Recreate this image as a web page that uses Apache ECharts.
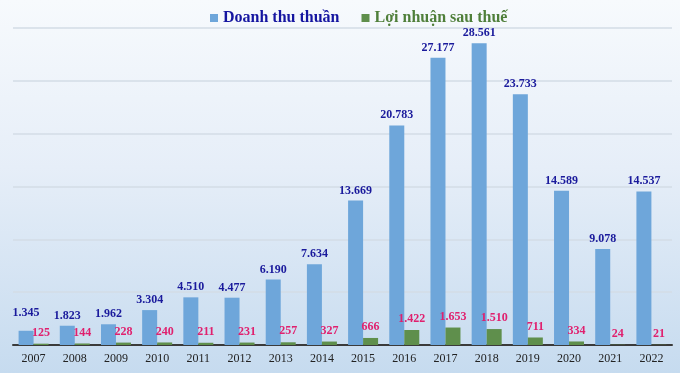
<!DOCTYPE html>
<html>
<head>
<meta charset="utf-8">
<script src="https://cdn.jsdelivr.net/npm/echarts@6/dist/echarts.min.js"></script>
<style>html,body{margin:0;padding:0;}#c{width:680px;height:373px;}</style>
</head>
<body>
<div id="c"></div>
<script>
const years = ['2007','2008','2009','2010','2011','2012','2013','2014','2015','2016','2017','2018','2019','2020','2021','2022'];
const revenue = [1345, 1823, 1962, 3304, 4510, 4477, 6190, 7634, 13669, 20783, 27177, 28561, 23733, 14589, 9078, 14537];
const profit = [125, 144, 228, 240, 211, 231, 257, 327, 666, 1422, 1653, 1510, 711, 334, 24, 21];

function fmt(v) {
  return String(v).replace(/\B(?=(\d{3})+(?!\d))/g, '.');
}
const serif = '"Liberation Serif", "Times New Roman", serif';
const chart = echarts.init(document.getElementById('c'));
chart.setOption({
  animation: false,
  backgroundColor: new echarts.graphic.LinearGradient(0, 0, 0, 1, [
    {offset: 0, color: '#f7fafd'},
    {offset: 0.45, color: '#e6eef8'},
    {offset: 1, color: '#c6dbef'}
  ]),
  legend: {
    top: 5,
    left: 205,
    icon: 'rect',
    itemWidth: 8,
    itemHeight: 8,
    itemGap: 22,
    textStyle: {fontFamily: serif, fontWeight: 'bold', fontSize: 16},
    data: [
      {name: 'Doanh thu thuần', textStyle: {color: '#1515a0'}},
      {name: 'Lợi nhuận sau thuế', textStyle: {color: '#4f7f3a'}}
    ]
  },
  grid: {left: 13, right: 8, top: 28, bottom: 28},
  xAxis: {
    type: 'category',
    data: years,
    axisTick: {show: false},
    axisLine: {lineStyle: {color: '#3a3a3a', width: 2}},
    axisLabel: {fontFamily: serif, fontSize: 12, color: '#222', margin: 8}
  },
  yAxis: {
    type: 'value',
    min: 0, max: 30000, interval: 5000,
    axisLabel: {show: false},
    axisLine: {show: false},
    axisTick: {show: false},
    splitLine: {lineStyle: {color: '#d3dce6', width: 1.5}}
  },
  series: [
    {
      name: 'Doanh thu thuần',
      type: 'bar',
      data: revenue.map((v, i) => i === 0 ? {value: v, label: {distance: 12}} : v),
      barWidth: 15,
      barGap: '0%',
      itemStyle: {color: '#6ea6da'},
      label: {
        show: true, position: 'top', distance: 4,
        fontFamily: serif, fontWeight: 'bold', fontSize: 12, color: '#1a1a9c',
        formatter: p => fmt(p.value)
      }
    },
    {
      name: 'Lợi nhuận sau thuế',
      type: 'bar',
      data: profit,
      barWidth: 15,
      itemStyle: {color: '#5f8f4c'},
      label: {
        show: true, position: 'top', distance: 5,
        fontFamily: serif, fontWeight: 'bold', fontSize: 12, color: '#e0206e',
        formatter: p => fmt(p.value)
      }
    }
  ]
});
</script>
</body>
</html>
